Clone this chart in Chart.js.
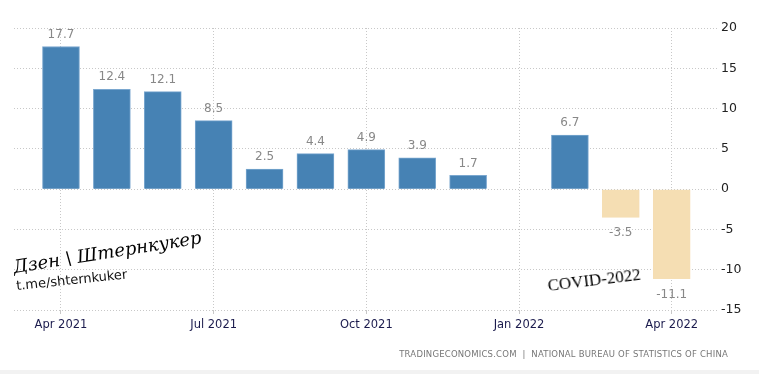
<!DOCTYPE html>
<html>
<head>
<meta charset="utf-8">
<script src="https://cdn.jsdelivr.net/npm/chart.js@4"></script>
<style>
  body { margin: 0; background: #fff; }
  #wrap { position: relative; width: 759px; height: 374px; overflow: hidden; }
  #chart { position: absolute; left: 0; top: 0; }
  .mark { position: absolute; white-space: nowrap; transform-origin: left bottom; }
  #dzen { left: 15px; top: 256px; font: italic 18px "DejaVu Serif"; color: #000; transform: rotate(-9deg); }
  #tme { left: 17px; top: 278px; font: 13px "DejaVu Sans"; color: #111; transform: rotate(-6deg); }
  #covid { left: 549px; top: 276px; font: 17px "Liberation Serif"; color: #000; transform: rotate(-7deg); }
  #source { right: 31px; top: 349px; font: 8.5px "DejaVu Sans"; color: #777; letter-spacing: 0.2px; }
  #strip { position: absolute; left: 0; right: 0; bottom: 0; height: 4px; background: #f2f2f2; }
</style>
</head>
<body>
<div id="wrap">
  <canvas id="chart" width="759" height="374"></canvas>
  <div class="mark" id="dzen">Дзен \ Штернкукер</div>
  <div class="mark" id="tme">t.me/shternkuker</div>
  <div class="mark" id="covid">COVID-2022</div>
  <div class="mark" id="source">TRADINGECONOMICS.COM &nbsp;|&nbsp; NATIONAL BUREAU OF STATISTICS OF CHINA</div>
  <div id="strip"></div>
</div>
<script>
var months = ['Apr 2021','May 2021','Jun 2021','Jul 2021','Aug 2021','Sep 2021','Oct 2021',
              'Nov 2021','Dec 2021','Jan 2022','Feb 2022','Mar 2022','Apr 2022'];
var growth = [17.7, 12.4, 12.1, 8.5, 2.5, 4.4, 4.9, 3.9, 1.7, null, 6.7, -3.5, -11.1];
var tickMonths = [0, 3, 6, 9, 12];
var yTicks = [-15, -10, -5, 0, 5, 10, 15, 20];

var points = [];
for (var i = 0; i < months.length; i++) {
  if (growth[i] !== null) points.push({x: i, y: growth[i]});
}

// value labels above / below the bars
var valueLabels = {
  id: 'valueLabels',
  afterDatasetsDraw: function(chart) {
    var ctx = chart.ctx;
    var meta = chart.getDatasetMeta(0);
    ctx.save();
    ctx.font = '12px "DejaVu Sans"';
    ctx.fillStyle = '#888';
    ctx.textAlign = 'center';
    meta.data.forEach(function(bar, idx) {
      var v = points[idx].y;
      if (v >= 0) {
        ctx.textBaseline = 'bottom';
        ctx.fillText(v.toFixed(1), bar.x, bar.y - 6);
      } else {
        ctx.textBaseline = 'top';
        ctx.fillText(v.toFixed(1), bar.x, bar.y + 10);
      }
    });
    ctx.restore();
  }
};

var ctx = document.getElementById('chart');
var chart = new Chart(ctx, {
  type: 'bar',
  data: {
    datasets: [{
      data: points,
      backgroundColor: function(c) { return c.raw && c.raw.y < 0 ? '#f5deb3' : '#4682b4'; },
      borderColor: function(c) { return c.raw && c.raw.y < 0 ? '#f5deb3' : '#7aa7cf'; },
      borderWidth: 1,
      barThickness: 37
    }]
  },
  options: {
    responsive: false,
    animation: false,
    layout: { padding: { left: 14, top: 28, right: 0, bottom: 0 } },
    plugins: { legend: { display: false }, tooltip: { enabled: false } },
    scales: {
      x: {
        type: 'linear',
        offset: false,
        min: -0.923,
        max: 12.91,
        afterBuildTicks: function(scale) {
          scale.ticks = tickMonths.map(function(v) { return {value: v}; });
        },
        afterFit: function(scale) { scale.height = 64; },
        border: { display: false, dash: [1, 2] },
        grid: { offset: false, color: '#c8c8c8', tickLength: 4, drawTicks: true },
        ticks: {
          padding: 4,
          maxRotation: 0,
          autoSkip: false,
          color: '#1b1b4d',
          font: { family: 'DejaVu Sans', size: 11.5 },
          callback: function(v) { return months[v]; }
        }
      },
      y: {
        position: 'right',
        min: -15,
        max: 20,
        afterBuildTicks: function(scale) {
          scale.ticks = yTicks.map(function(v) { return {value: v}; });
        },
        afterFit: function(scale) { scale.width = 41; },
        border: { display: false, dash: [1, 2] },
        grid: { color: '#c8c8c8', drawTicks: false },
        ticks: {
          padding: 3,
          color: '#222',
          font: { family: 'DejaVu Sans', size: 12.5 }
        }
      }
    }
  },
  plugins: [valueLabels]
});
</script>
</body>
</html>
